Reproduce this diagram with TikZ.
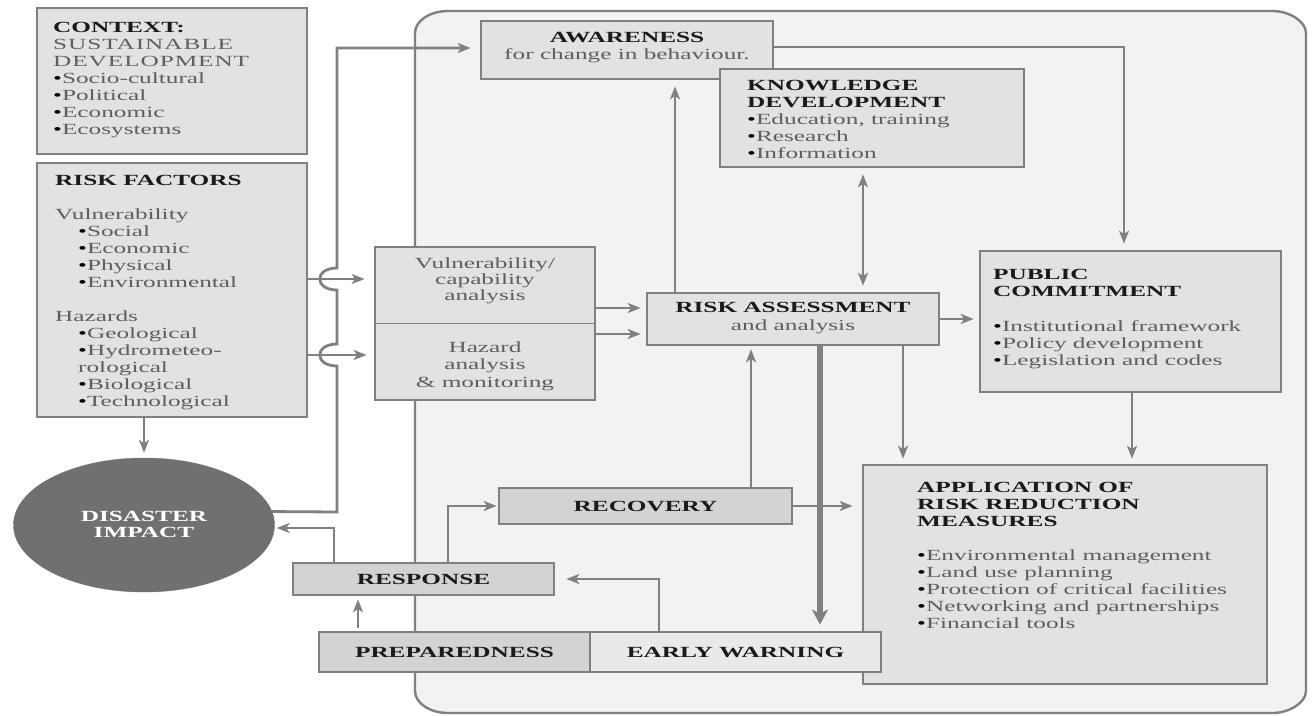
\documentclass[tikz,border=0pt]{standalone}
\usepackage{fontspec}
\setmainfont{Liberation Serif}[FakeStretch=1.63]
\usetikzlibrary{arrows.meta,calc,shapes.geometric}
\definecolor{edge}{HTML}{808080}
\definecolor{boxfill}{HTML}{E2E2E2}
\definecolor{darkfill}{HTML}{D3D3D3}
\definecolor{lightfill}{HTML}{E9E9E9}
\definecolor{bgfill}{HTML}{F2F2F2}
\definecolor{headtxt}{HTML}{1A1A1A}
\definecolor{bodytxt}{HTML}{5E5E5E}
\definecolor{impact}{HTML}{707070}
\newcommand{\bl}{{\color{black}•}}
\newcommand{\hdg}[1]{{\bfseries\color{headtxt}#1}}
\begin{document}
\begin{tikzpicture}[x=1pt,y=-1pt,
  box/.style={draw=edge, line width=2.7pt, fill=boxfill, inner sep=0pt, rectangle},
  txt/.style={inner sep=0pt, font=\fontsize{15.5}{17}\selectfont, text=bodytxt},
  boxtxt/.style={font=\fontsize{15.5}{17}\selectfont\bfseries, text=headtxt},
  arr/.style={draw=edge, line width=2.8pt, -{Stealth[length=13pt,width=10pt,inset=3.5pt]}},
  darr/.style={draw=edge, line width=2.8pt, {Stealth[length=13pt,width=10pt,inset=3.5pt]}-{Stealth[length=13pt,width=10pt,inset=3.5pt]}},
  tarr/.style={draw=edge, line width=5.5pt, -{Stealth[length=15pt,width=16pt,inset=4pt]}},
]
\useasboundingbox (0,0) rectangle (1314,715);
% large rounded background panel
\draw[draw=edge, line width=2.4pt, fill=bgfill]
  (415,33) .. controls (415,20.9) and (429.8,11) .. (448,11) -- (1273,11)
  .. controls (1288.2,11) and (1306,20.9) .. (1306,33) -- (1306,691)
  .. controls (1306,703.1) and (1288.2,713) .. (1273,713) -- (448,713)
  .. controls (429.8,713) and (415,703.1) .. (415,691) -- cycle;

% boxes
\node[box, minimum width=270pt, minimum height=146pt] (ctx) at (172,81) {};
\node[box, minimum width=270pt, minimum height=254pt] (rf) at (172,290) {};
\node[ellipse, fill=impact, draw=impact, minimum width=261pt, minimum height=134pt, inner sep=0pt] (di) at (144,525) {};
\node[box, minimum width=292pt, minimum height=58pt] (aw) at (627,50) {};
\node[box, minimum width=304pt, minimum height=98pt] (kd) at (872,118) {};
\node[box, minimum width=220pt, minimum height=153pt] (vc) at (485,323.5) {};
\draw[draw=edge, line width=1.6pt] (vc.west) -- (vc.east);
\node[box, minimum width=292pt, minimum height=52pt] (ra) at (793,319) {};
\node[box, minimum width=301pt, minimum height=141pt] (pc) at (1130.5,321.5) {};
\node[box, minimum width=404pt, minimum height=219pt] (app) at (1065,574.5) {};
\node[box, fill=darkfill, minimum width=293pt, minimum height=36pt, boxtxt] (rec) at (645.5,506) {RECOVERY};
\node[box, fill=darkfill, minimum width=261pt, minimum height=32pt, boxtxt] (resp) at (423.5,579) {RESPONSE};
\node[box, fill=darkfill, minimum width=271pt, minimum height=40pt, boxtxt] (prep) at (454.5,652) {PREPAREDNESS};
\node[box, fill=lightfill, minimum width=291pt, minimum height=40pt, boxtxt] (ew) at (735.5,652) {EARLY WARNING};

% texts
\node[txt, anchor=north west, align=left] (ctxt) at (53,22.5)
  {\hdg{CONTEXT:}\\{\addfontfeature{LetterSpace=6}SUSTAINABLE}\\{\addfontfeature{LetterSpace=6}DEVELOPMENT}\\\bl Socio-cultural\\\bl Political\\\bl Economic\\\bl Ecosystems};
\node[txt, anchor=north west, align=left] (rft) at (55,175.5)
  {\hdg{RISK FACTORS}\\[17pt]Vulnerability\\\hspace*{23pt}\bl Social\\\hspace*{23pt}\bl Economic\\\hspace*{23pt}\bl Physical\\\hspace*{23pt}\bl Environmental\\[17pt]Hazards\\\hspace*{23pt}\bl Geological\\\hspace*{23pt}\bl Hydrometeo-\\\hspace*{23pt}rological\\\hspace*{23pt}\bl Biological\\\hspace*{23pt}\bl Technological};
\node[txt, anchor=north, align=center, text=white, font=\fontsize{15.5}{16}\selectfont\bfseries] (dit) at (144,511.5) {DISASTER\\IMPACT};
\node[txt, anchor=north, align=center] (awt) at (627,32.5) {\hdg{AWARENESS}\\for change in behaviour.};
\node[txt, anchor=north west, align=left] (kdt) at (747,80.5)
  {\hdg{KNOWLEDGE}\\\hdg{DEVELOPMENT}\\\bl Education, training\\\bl Research\\\bl Information};
\node[txt, anchor=north, align=center, font=\fontsize{15.5}{16}\selectfont] (vct1) at (485,257.5) {Vulnerability/\\capability\\analysis};
\node[txt, anchor=north, align=center, font=\fontsize{15.5}{17.5}\selectfont] (vct2) at (485,341.5) {Hazard\\analysis\\\& monitoring};
\node[txt, anchor=north, align=center, font=\fontsize{15.5}{18}\selectfont] (rat) at (793,302.5) {\hdg{RISK ASSESSMENT}\\and analysis};
\node[txt, anchor=north west, align=left] (pct) at (993,269.5)
  {\hdg{PUBLIC}\\\hdg{COMMITMENT}\\[18pt]\bl Institutional framework\\\bl Policy development\\\bl Legislation and codes};
\node[txt, anchor=north west, align=left] (appt) at (917,482.5)
  {\hdg{APPLICATION OF}\\\hdg{RISK REDUCTION}\\\hdg{MEASURES}\\[17pt]\bl Environmental management\\\bl Land use planning\\\bl Protection of critical facilities\\\bl Networking and partnerships\\\bl Financial tools};

% connectors
\draw[arr, shorten >=5pt] (di.north |- rf.south) -- (di.north);
\draw[arr, shorten >=9pt] (di.6) -- (337,512) -- (337,366)
  .. controls (314,366) and (314,344) .. (337,344) -- (337,290)
  .. controls (314,290) and (314,268) .. (337,268) -- (337,48) -- ([yshift=2pt]aw.west);
\draw[arr, shorten >=9pt] (rf.east |- 0,279) -- (vc.west |- 0,279);
\draw[arr, shorten >=7pt] (rf.east |- 0,355) -- (vc.west |- 0,355);
\draw[arr, shorten >=5pt] (vc.east |- 0,308) -- (ra.west |- 0,308);
\draw[arr, shorten >=5pt] (vc.east |- 0,334) -- (ra.west |- 0,334);
\draw[arr, shorten >=6pt] (ra.north -| 675,0) -- (aw.south -| 675,0);
\draw[darr, shorten <=6pt, shorten >=6pt] (kd.south -| 863,0) -- (ra.north -| 863,0);
\draw[arr, shorten >=6pt] ([yshift=3pt]aw.east) -- (1124,47) -- (pc.north -| 1124,0);
\draw[arr, shorten >=5pt] (ra.east) -- (pc.west |- ra.east);
\draw[arr, shorten >=5pt] (ra.south -| 903,0) -- (app.north -| 903,0);
\draw[arr, shorten >=5pt] (pc.south -| 1132,0) -- (app.north -| 1132,0);
\draw[arr, shorten >=3pt] (rec.north -| 751,0) -- (ra.south -| 751,0);
\draw[arr, shorten >=9pt] (rec.east) -- (app.west |- rec.east);
\draw[tarr, shorten >=6pt] (ra.south -| 820,0) -- (ew.north -| 820,0);
\draw[arr, shorten >=1pt] (resp.north -| 448,0) -- (448,506) -- (rec.west);
\draw[arr, shorten >=2pt] (resp.north -| 334,0) -- (334,528) -- (di.east |- 0,528);
\draw[arr, shorten <=3pt, shorten >=3pt] (prep.north -| 358,0) -- (resp.south -| 358,0);
\draw[arr, shorten >=11pt] (ew.north -| 659,0) -- (659,579) -- (resp.east);
\end{tikzpicture}
\end{document}
